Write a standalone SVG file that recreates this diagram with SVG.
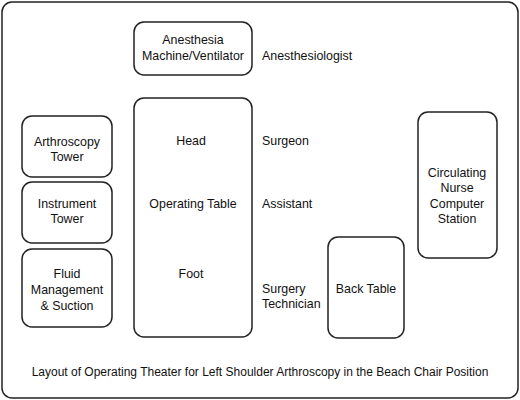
<svg xmlns="http://www.w3.org/2000/svg" width="520" height="400" viewBox="0 0 520 400">
<style>
.box{fill:#fff;stroke:#222;stroke-width:1.5}
text{font-family:"Liberation Sans",Arial,sans-serif;font-size:12.4px;fill:#111}
.c{text-anchor:middle}
.cap{font-size:12px}
</style>
<rect x="0" y="0" width="520" height="400" fill="#fff"/>
<rect id="frame" x="2" y="2" width="516" height="396" rx="10" fill="none" stroke="#222" stroke-width="1.5"/>
<g id="anesthesia-machine">
<rect class="box" x="134" y="22" width="118" height="53" rx="10"/>
<text class="c" x="193" y="44">Anesthesia</text>
<text class="c" x="193" y="60">Machine/Ventilator</text>
</g>
<g id="operating-table">
<rect class="box" x="134" y="98" width="118" height="239" rx="10"/>
<text class="c" x="191" y="145">Head</text>
<text class="c" x="193" y="208">Operating Table</text>
<text class="c" x="191" y="278">Foot</text>
</g>
<g id="arthroscopy-tower">
<rect class="box" x="22" y="116" width="90" height="61" rx="10"/>
<text class="c" x="67" y="146">Arthroscopy</text>
<text class="c" x="67" y="161">Tower</text>
</g>
<g id="instrument-tower">
<rect class="box" x="22" y="182" width="90" height="61" rx="10"/>
<text class="c" x="67" y="208">Instrument</text>
<text class="c" x="67" y="223">Tower</text>
</g>
<g id="fluid-management">
<rect class="box" x="22" y="249" width="90" height="78" rx="10"/>
<text class="c" x="67" y="278">Fluid</text>
<text class="c" x="67" y="294">Management</text>
<text class="c" x="67" y="310">&amp; Suction</text>
</g>
<g id="circulating-nurse">
<rect class="box" x="418" y="112" width="79" height="146" rx="10"/>
<text class="c" x="457" y="177">Circulating</text>
<text class="c" x="457" y="192">Nurse</text>
<text class="c" x="457" y="208">Computer</text>
<text class="c" x="457" y="223">Station</text>
</g>
<g id="back-table">
<rect class="box" x="328" y="237" width="76" height="101" rx="10"/>
<text class="c" x="366" y="293">Back Table</text>
</g>
<g id="staff">
<text x="262" y="60">Anesthesiologist</text>
<text x="262" y="145">Surgeon</text>
<text x="262" y="208">Assistant</text>
<text x="262" y="293">Surgery</text>
<text x="262" y="308">Technician</text>
</g>
<g id="connectors"></g>
<text class="c cap" x="260" y="376">Layout of Operating Theater for Left Shoulder Arthroscopy in the Beach Chair Position</text>
</svg>
